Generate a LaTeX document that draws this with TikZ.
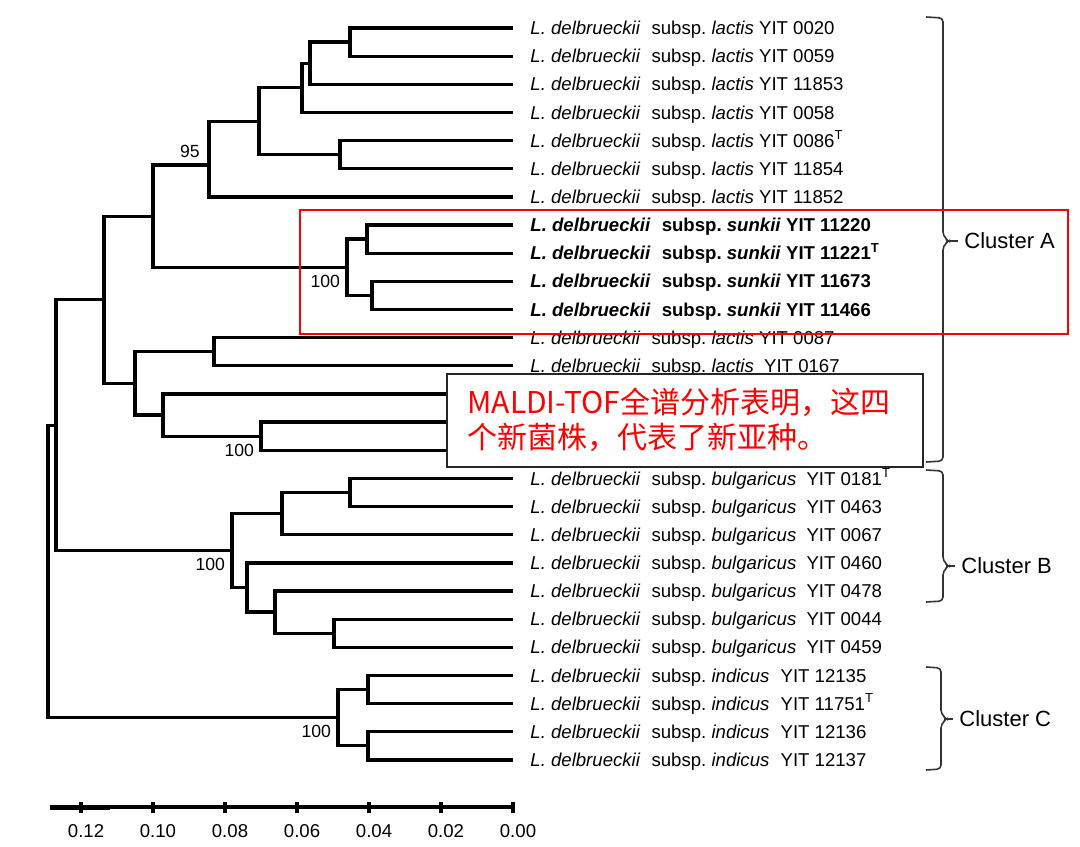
\documentclass[tikz,border=0pt]{standalone}
\usepackage{fontspec}
\setmainfont{Liberation Sans}
\newfontfamily\cjk{Noto Sans CJK SC}
\usepackage{xcolor}
\usetikzlibrary{positioning}

\newcommand{\ldel}{\textit{L. delbrueckii}\hspace{0.6em}subsp.}

\begin{document}
\begin{tikzpicture}[x=0.5pt, y=-0.5pt,
    branch/.style={line width=1.65pt},
    leaf/.style={anchor=base west, inner sep=0pt, xshift=8.5pt, yshift=-3.3pt, font=\fontsize{9.3}{11}\selectfont},
    boot/.style={anchor=north east, inner sep=0pt, xshift=-3.3pt, yshift=-3.6pt, font=\fontsize{8.8}{10}\selectfont},
    tick/.style={inner sep=0pt, xshift=2.5pt, font=\fontsize{9.3}{11}\selectfont},
    clbrace/.style={line width=0.8pt, draw=black!80, rounded corners=2pt},
    cluster/.style={anchor=west, inner sep=3pt, font=\fontsize{11}{13}\selectfont},
    notetext/.style={anchor=west, inner sep=0pt, text=red, font=\cjk\fontsize{15}{18}\selectfont}]
  \useasboundingbox (0,0) rectangle (1080,846);

  % folhas
  \foreach \i in {1,...,27}
    \coordinate (l\i) at (513, {28+28.15*(\i-1)});

  % nos internos
  \coordinate (a1) at (350, 42.1);
  \coordinate (a2) at (310, 63.2);
  \coordinate (a3) at (302, 87.8);
  \coordinate (a4) at (340, 154.7);
  \coordinate (a5) at (259, 121.2);
  \coordinate (a6) at (209, 165);
  \coordinate (s1) at (367, 239.1);
  \coordinate (s2) at (372, 295.4);
  \coordinate (s3) at (347, 267.3);
  \coordinate (a7) at (153, 216.2);
  \coordinate (b1) at (214, 351.7);
  \coordinate (b2) at (261, 436.2);
  \coordinate (b3) at (163, 415.1);
  \coordinate (b4) at (135, 383.4);
  \coordinate (a8) at (104, 299.8);
  \coordinate (c1) at (350, 492.5);
  \coordinate (c2) at (282, 513.6);
  \coordinate (c3) at (334, 633.2);
  \coordinate (c4) at (275, 612.1);
  \coordinate (c5) at (247, 587.5);
  \coordinate (c6) at (232, 550.5);
  \coordinate (a9) at (56, 425.2);
  \coordinate (d1) at (368, 689.5);
  \coordinate (d2) at (368, 745.8);
  \coordinate (d3) at (338, 717.7);
  \coordinate (r) at (48, 571.4);

  % ramos
  \foreach \p/\c in {a1/l1,a1/l2,a2/a1,a2/l3,a3/a2,a3/l4,a4/l5,a4/l6,a5/a3,a5/a4,
      a6/a5,a6/l7,s1/l8,s1/l9,s2/l10,s2/l11,s3/s1,s3/s2,a7/a6,a7/s3,
      b1/l12,b1/l13,b2/l15,b2/l16,b3/l14,b3/b2,b4/b1,b4/b3,a8/a7,a8/b4,
      c1/l17,c1/l18,c2/c1,c2/l19,c3/l22,c3/l23,c4/l21,c4/c3,c5/l20,c5/c4,
      c6/c2,c6/c5,a9/a8,a9/c6,d1/l24,d1/l25,d2/l26,d2/l27,d3/d1,d3/d2,r/a9,r/d3}
    \draw[branch] (\p) |- (\c);

  % bootstrap
  \node[boot, anchor=south east, xshift=-1.2pt, yshift=7.1pt] (bs95) at (a6) {95};
  \node[boot] (bs1) at (s3) {100};
  \node[boot] (bs2) at (b2) {100};
  \node[boot] (bs3) at (c6) {100};
  \node[boot] (bs4) at (d3) {100};

  % escala
  \draw[line width=1.6pt] (50,807) -- (513,807);
  \draw[line width=2.2pt] (50,807.6) -- (110,807.6);
  \foreach \v [count=\k] in {0.12,0.10,0.08,0.06,0.04,0.02,0.00} {
    \draw[line width=1.6pt] ({513-3600*\v},802) -- ({513-3600*\v},813);
    \node[tick] (tk\k) at ({513-3600*\v},831) {\v};
  }

  % nomes das estirpes
  \foreach \i/\txt in {
      1/{\ldel\ \textit{lactis} YIT 0020},
      2/{\ldel\ \textit{lactis} YIT 0059},
      3/{\ldel\ \textit{lactis} YIT 11853},
      4/{\ldel\ \textit{lactis} YIT 0058},
      5/{\ldel\ \textit{lactis} YIT 0086\textsuperscript{T}},
      6/{\ldel\ \textit{lactis} YIT 11854},
      7/{\ldel\ \textit{lactis} YIT 11852},
      8/{\textbf{\ldel\ \textit{sunkii} YIT 11220}},
      9/{\textbf{\ldel\ \textit{sunkii} YIT 11221\textsuperscript{T}}},
      10/{\textbf{\ldel\ \textit{sunkii} YIT 11673}},
      11/{\textbf{\ldel\ \textit{sunkii} YIT 11466}},
      12/{\ldel\ \textit{lactis} YIT 0087},
      13/{\ldel\ \textit{lactis}\hspace{0.55em}YIT 0167},
      17/{\ldel\ \textit{bulgaricus}\hspace{0.55em}YIT 0181\textsuperscript{T}},
      18/{\ldel\ \textit{bulgaricus}\hspace{0.55em}YIT 0463},
      19/{\ldel\ \textit{bulgaricus}\hspace{0.55em}YIT 0067},
      20/{\ldel\ \textit{bulgaricus}\hspace{0.55em}YIT 0460},
      21/{\ldel\ \textit{bulgaricus}\hspace{0.55em}YIT 0478},
      22/{\ldel\ \textit{bulgaricus}\hspace{0.55em}YIT 0044},
      23/{\ldel\ \textit{bulgaricus}\hspace{0.55em}YIT 0459},
      24/{\ldel\ \textit{indicus}\hspace{0.6em}YIT 12135},
      25/{\ldel\ \textit{indicus}\hspace{0.6em}YIT 11751\textsuperscript{T}},
      26/{\ldel\ \textit{indicus}\hspace{0.6em}YIT 12136},
      27/{\ldel\ \textit{indicus}\hspace{0.6em}YIT 12137}}
    \node[leaf] (n\i) at (l\i) {\txt};

  % chavetas dos clusters
  \node[cluster] (cA) at (958,241) {Cluster A};
  \node[cluster] (cB) at (955,566) {Cluster B};
  \node[cluster] (cC) at (953,719) {Cluster C};
  \draw[clbrace] (926,17) -- (943,18) -- (943,236) -- (949,241) -- (943,246) -- (943,461) -- (926,462);
  \draw[clbrace] (949,241) -- (cA.west);
  \draw[clbrace] (926,470) -- (943,471) -- (943,561) -- (949,566) -- (943,571) -- (943,601) -- (926,602);
  \draw[clbrace] (949,566) -- (cB.west);
  \draw[clbrace] (926,667) -- (941,668) -- (941,714) -- (947,719) -- (941,724) -- (941,769) -- (926,770);
  \draw[clbrace] (947,719) -- (cC.west);

  % destaque
  \draw[red, line width=1.2pt] (300,210) rectangle (1068,334);
  \node[draw=black!85, fill=white, line width=0.8pt, anchor=north west,
        minimum width=238pt, minimum height=46.5pt] (note) at (446,373) {};
  \node[notetext] (m1) at (467,402) {MALDI-TOF全谱分析表明，这四};
  \node[notetext] (m2) at (467,437) {个新菌株，代表了新亚种。};
\end{tikzpicture}
\end{document}
